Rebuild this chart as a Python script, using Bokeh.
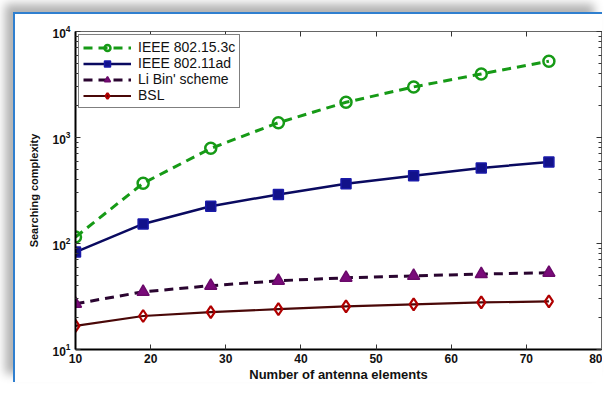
from bokeh.plotting import figure
from bokeh.models import LinearAxis, LogAxis, FixedTicker, LogTicker, Range1d, Legend, LegendItem
from bokeh.embed import file_html
from bokeh.resources import INLINE

# ---- data ----
antennas = [10, 19, 28, 37, 46, 55, 64, 73]
ieee_802_15_3c = [115, 370, 790, 1380, 2150, 3000, 3980, 5250]
ieee_802_11ad = [83, 153, 225, 290, 367, 435, 516, 588]
li_bin_scheme = [27, 35, 40, 44.5, 47.5, 49.5, 51.5, 53]
bsl = [16.7, 20.7, 22.5, 24, 25.5, 26.7, 27.8, 28.4]
x_ticks = [10, 20, 30, 40, 50, 60, 70, 80]
series_names = ["IEEE 802.15.3c", "IEEE 802.11ad", "Li Bin' scheme", "BSL"]

FONT = "Liberation Sans"

p = figure(width=589, height=370, output_backend="svg", toolbar_location=None,
           y_axis_type="log", x_range=Range1d(10, 80), y_range=Range1d(10, 10000),
           min_border_left=60, min_border_right=3, min_border_top=17, min_border_bottom=29)
p.margin = (12, 0, 0, 13)
p.styles = {"border-left": "2px solid #2f7fcf", "border-top": "2px solid #2f7fcf",
            "box-shadow": "-8px -8px 9px rgba(0,0,0,0.30)"}
p.background_fill_color = "white"
p.border_fill_color = "white"
p.grid.visible = False
p.outline_line_color = "#555555"
p.outline_line_width = 1

# bottom axis
xa = p.xaxis[0]
xa.ticker = FixedTicker(ticks=x_ticks, minor_ticks=[])
xa.axis_label = "Number of antenna elements"
# left axis
ya = p.yaxis[0]
ya.ticker = LogTicker(num_minor_ticks=10)
ya.axis_label = "Searching complexity"
for ax in (xa, ya):
    ax.axis_line_color = "black"
    ax.axis_line_width = 2
    ax.major_tick_in = 5
    ax.major_tick_out = 0
    ax.minor_tick_in = 3
    ax.minor_tick_out = 0
    ax.major_tick_line_color = "#333333"
    ax.minor_tick_line_color = "#333333"
    ax.major_label_text_font = FONT
    ax.major_label_text_font_style = "bold"
    ax.major_label_text_font_size = "12px"
    ax.major_label_text_color = "#111111"
    ax.axis_label_text_font = FONT
    ax.axis_label_text_font_style = "bold"
    ax.axis_label_text_color = "#111111"
xa.major_label_standoff = 4
xa.axis_label_standoff = 1
xa.axis_label_text_font_size = "13px"
ya.major_label_standoff = 5
ya.axis_label_standoff = 9
ya.axis_label_text_font_size = "11px"

# top and right axes: ticks only (labels kept tiny and transparent)
top = LinearAxis(ticker=FixedTicker(ticks=x_ticks, minor_ticks=[]))
right = LogAxis(ticker=LogTicker(num_minor_ticks=10))
for ax in (top, right):
    ax.axis_line_color = "#666666"
    ax.axis_line_width = 1
    ax.major_tick_in = 5
    ax.major_tick_out = 0
    ax.minor_tick_in = 3
    ax.minor_tick_out = 0
    ax.major_tick_line_color = "#333333"
    ax.minor_tick_line_color = "#333333"
    ax.major_label_text_font_size = "1px"
    ax.major_label_text_alpha = 0
    ax.major_label_standoff = 0
p.add_layout(top, "above")
p.add_layout(right, "right")

items = []
# IEEE 802.15.3c
g = "#169a16"
l1 = p.line(antennas, ieee_802_15_3c, line_color=g, line_width=3, line_dash="9 6")
s1 = p.scatter(antennas, ieee_802_15_3c, marker="circle", size=11, fill_color=None,
               line_color=g, line_width=2.5)
items.append(LegendItem(label=series_names[0], renderers=[l1, s1]))
# IEEE 802.11ad
l2 = p.line(antennas, ieee_802_11ad, line_color="#0a0a60", line_width=2.5)
s2 = p.scatter(antennas, ieee_802_11ad, marker="square", size=10, fill_color="#12128a",
               line_color="#1a1aa8", line_width=1.5)
items.append(LegendItem(label=series_names[1], renderers=[l2, s2]))
# Li Bin' scheme
l3 = p.line(antennas, li_bin_scheme, line_color="#2a0530", line_width=3, line_dash="9 6")
s3 = p.scatter(antennas, li_bin_scheme, marker="triangle", size=12, fill_color="#7a0a7a",
               line_color="#6a0a6a", line_width=1.5)
items.append(LegendItem(label=series_names[2], renderers=[l3, s3]))
# BSL
l4 = p.line(antennas, bsl, line_color="#4a0808", line_width=2.2)
s4 = p.scatter(antennas, bsl, marker="diamond", size=12, fill_color=None,
               line_color="#b00000", line_width=2.2)
items.append(LegendItem(label=series_names[3], renderers=[l4, s4]))

legend = Legend(items=items, location="top_left", margin=3, padding=4, spacing=0,
                glyph_width=48, glyph_height=15, label_height=15, label_standoff=7,
                label_text_font=FONT, label_text_font_size="14px",
                label_text_color="#111111",
                border_line_color="black", border_line_width=1,
                background_fill_color="white", background_fill_alpha=1)
p.add_layout(legend, "center")

open("out.html", "w").write(file_html(p, INLINE))
